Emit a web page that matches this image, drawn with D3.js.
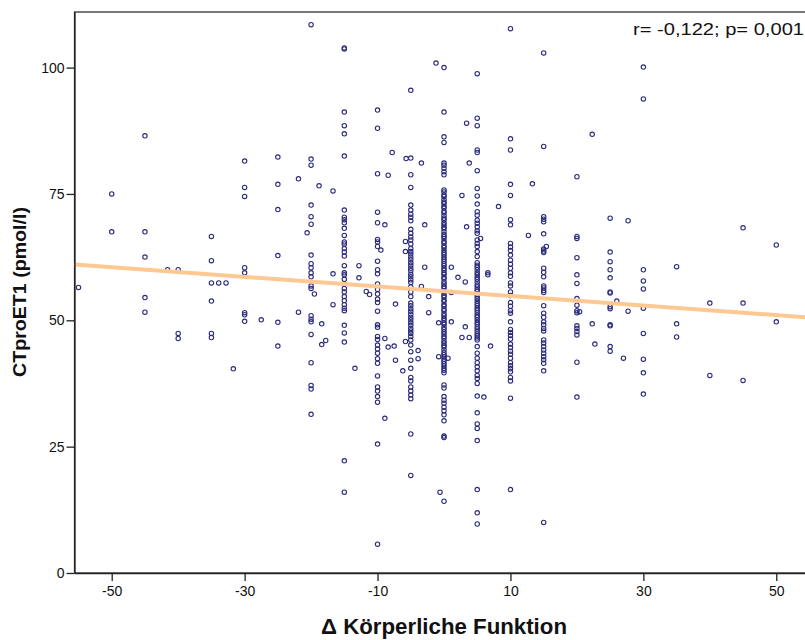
<!DOCTYPE html>
<html>
<head>
<meta charset="utf-8">
<script src="https://cdn.jsdelivr.net/npm/d3@7"></script>
<style>
  body { margin: 0; background: #fff; }
  svg text { font-family: Arial, "Liberation Sans", sans-serif; }
</style>
</head>
<body>
<div class="canvas-container"></div>
<script>
// x columns (Δ Körperliche Funktion) and CTproET1 values in each column
const colX = [-50, -45, -40, -35, -30, -25, -20, -15, -10, -5, 0, 5, 10, 15, 20, 25, 30, 35, 40, 45, 50]
const colY = [
  [75.0, 67.5],
  [86.5, 67.5, 62.5, 54.5, 51.6],
  [60.0, 47.4, 46.4],
  [66.6, 61.8, 57.4, 53.8, 47.4, 46.6],
  [81.5, 76.3, 74.5, 60.4, 59.4, 51.5, 51.1, 49.8],
  [82.3, 76.9, 71.9, 62.8, 49.6, 44.9],
  [108.5, 81.9, 80.7, 72.8, 70.5, 69.0, 62.9, 61.2, 60.4, 59.4, 58.6, 56.8, 56.3, 50.9, 50.2, 49.7, 47.2, 41.6, 37.1, 36.4, 31.4],
  [103.9, 103.7, 91.2, 88.5, 86.9, 82.5, 71.8, 70.4, 69.9, 69.3, 68.2, 66.8, 65.5, 65.1, 64.2, 63.5, 62.7, 60.8, 59.4, 59.0, 58.1, 57.2, 56.3, 55.6, 54.7, 53.9, 53.1, 52.4, 51.9, 49.0, 47.5, 45.7, 22.2, 16.0],
  [91.6, 88.0, 79.0, 71.4, 69.3, 66.0, 65.5, 64.6, 61.7, 60.0, 59.2, 57.2, 56.1, 55.2, 54.2, 53.5, 51.8, 49.1, 48.6, 46.8, 46.2, 45.1, 44.3, 43.5, 42.4, 41.5, 39.0, 36.8, 36.0, 34.9, 33.8, 25.5, 5.7],
  [95.5, 82.1, 78.8, 76.3, 72.8, 71.8, 71.0, 70.4, 69.7, 68.0, 67.2, 66.5, 65.9, 65.1, 64.2, 63.6, 63.1, 62.5, 62.0, 61.4, 60.9, 60.3, 59.8, 59.1, 58.6, 58.0, 57.5, 56.6, 55.6, 54.7, 53.4, 52.9, 52.3, 51.8, 51.2, 50.6, 50.1, 49.5, 49.0, 48.4, 47.9, 47.4, 46.8, 46.1, 45.1, 43.8, 42.1, 40.5, 38.7, 38.0, 36.8, 36.0, 35.2, 34.5, 27.5, 19.3],
  [100.0, 91.2, 86.3, 85.2, 81.1, 80.7, 80.1, 79.4, 78.8, 75.8, 75.4, 74.8, 74.5, 73.9, 73.4, 73.1, 72.5, 72.2, 71.6, 71.3, 70.7, 70.2, 69.9, 69.3, 68.9, 68.4, 68.1, 67.5, 67.0, 66.6, 66.2, 65.6, 65.3, 64.7, 64.4, 63.9, 63.4, 63.0, 62.5, 62.1, 61.7, 61.2, 60.8, 60.3, 59.9, 59.4, 59.1, 58.5, 58.2, 57.6, 57.2, 56.7, 56.4, 55.8, 55.4, 54.9, 54.6, 54.0, 53.7, 53.1, 52.8, 52.2, 51.9, 51.3, 50.9, 50.4, 50.0, 49.5, 49.2, 48.6, 48.2, 47.7, 47.3, 46.8, 46.5, 45.9, 45.5, 45.0, 44.7, 44.1, 43.6, 43.2, 42.8, 42.3, 41.9, 41.4, 41.0, 40.5, 40.1, 39.6, 37.2, 36.6, 34.9, 34.2, 33.6, 32.8, 32.1, 31.3, 30.1, 27.1, 26.8, 14.2],
  [98.8, 90.0, 88.5, 83.7, 83.2, 79.6, 76.1, 74.6, 73.0, 71.5, 70.8, 69.8, 69.2, 68.5, 67.7, 67.2, 65.9, 65.2, 64.6, 63.6, 62.6, 61.4, 60.9, 60.5, 60.0, 59.4, 59.0, 58.5, 58.1, 57.6, 57.0, 56.6, 56.1, 55.7, 55.2, 54.8, 54.3, 53.8, 53.3, 52.9, 52.4, 52.0, 51.5, 51.0, 50.6, 50.1, 49.6, 49.2, 48.7, 48.3, 47.8, 47.3, 46.9, 46.5, 46.1, 44.8, 43.5, 42.5, 41.6, 40.8, 40.0, 39.1, 38.5, 37.5, 35.0, 31.7, 29.5, 28.6, 26.2, 16.5, 11.9, 9.7],
  [107.7, 85.9, 83.7, 76.9, 74.7, 69.9, 68.9, 65.2, 64.5, 63.8, 62.9, 61.9, 61.1, 60.3, 59.4, 58.7, 57.4, 56.8, 55.6, 54.9, 53.5, 52.8, 51.9, 51.4, 49.7, 48.2, 47.6, 47.0, 46.3, 45.3, 44.6, 43.9, 43.3, 42.5, 41.6, 41.0, 40.4, 39.8, 38.7, 38.0, 34.6, 16.5],
  [102.9, 84.4, 70.5, 70.0, 69.5, 67.1, 64.1, 63.7, 63.4, 60.3, 59.5, 58.6, 56.8, 56.4, 55.9, 55.5, 52.9, 51.4, 50.6, 49.7, 49.1, 48.4, 47.9, 46.1, 45.5, 44.8, 44.1, 43.5, 42.8, 42.2, 41.5, 40.0, 10.0],
  [78.4, 66.6, 66.2, 62.4, 59.0, 57.3, 54.3, 53.0, 51.9, 51.5, 48.9, 48.4, 47.8, 47.1, 41.7, 34.8],
  [70.2, 63.5, 61.6, 60.0, 58.4, 55.6, 55.4, 52.7, 52.3, 49.1, 48.9, 44.8, 43.9],
  [100.1, 93.8, 60.0, 57.8, 56.2, 52.4, 47.4, 42.3, 39.6, 35.4],
  [60.6, 49.3, 46.7],
  [53.4, 39.1],
  [68.3, 53.4, 38.1],
  [64.9, 49.7],
]

// points that sit between the columns
const looseX = [-55.0, -41.6, -33.9, -32.8, -31.7, -27.5, -21.9, -21.9, -20.6, -19.5, -18.8, -18.4, -18.4, -17.8,
  -16.7, -16.7, -16.7, -13.4, -12.8, -12.8, -11.7, -11.2, -9.5, -8.9, -8.4, -7.8, -8.9, -8.4, -7.5, -7.3, -7.3,
  -6.2, -8.9, -5.8, -5.8, -5.8, -5.7, -3.4, -2.9, -2.9, -3.4, -2.3, -2.3, -3.9, -3.9, -1.2, -0.8, -0.8, -0.6,
  0.6, 1.1, 1.1, 1.1, 2.1, 2.7, 2.7, 3.2, 3.2, 3.8, 3.8, 3.4, 3.4, 5.5, 6.0, 6.6, 6.6, 7.0, 8.2, 12.7, 13.3,
  15.4, 20.4, 22.3, 22.3, 22.7, 26.0, 27.7, 27.7, 27.0]
const looseY = [56.5, 60.0, 57.4, 57.4, 40.4, 50.1, 78.0, 51.6, 67.3, 55.2, 76.6, 49.3, 45.2, 46.0,
  75.6, 59.2, 53.1, 40.5, 60.8, 58.4, 55.7, 55.1, 63.9, 68.9, 78.7, 83.2, 46.4, 44.7, 44.9, 53.2, 42.1,
  40.0, 30.6, 65.6, 63.6, 45.8, 82.0, 81.1, 68.9, 60.5, 56.7, 54.7, 51.5, 44.0, 42.4, 100.9, 49.5, 42.8, 16.0,
  42.5, 60.5, 55.5, 49.7, 58.5, 74.7, 46.6, 57.6, 48.7, 81.1, 46.6, 68.5, 89.0, 66.2, 34.8, 59.0, 59.4, 44.9, 72.5, 66.8, 77.0,
  64.6, 51.7, 86.8, 49.3, 45.3, 53.8, 69.7, 51.8, 42.5]

// linear fit line
const fitX = [-55.6, 55.6]
const fitY = [61.03, 50.49]

const xTicks = [-50, -30, -10, 10, 30, 50]
const yTicks = [0, 25, 50, 75, 100]
const statText = "r= -0,122; p= 0,001"

const w = 805
const h = 640

const svg = d3.select(".canvas-container").append("svg")
  .attr("width", w).attr("height", h)

const x = d3.scaleLinear().domain([-55.6, 55.6]).range([74.5, 813.5])
const y = d3.scaleLinear().domain([0, 111]).range([573, 12])

const points = []
colX.forEach((cx, i) => colY[i].forEach(v => points.push([cx, v])))
looseX.forEach((lx, i) => points.push([lx, looseY[i]]))

// frame
svg.append("rect")
  .attr("x", x(-55.6)).attr("y", y(111))
  .attr("width", x(55.6) - x(-55.6)).attr("height", y(0) - y(111))
  .attr("fill", "none").attr("stroke", "#222").attr("stroke-width", 1.2)

svg.append("g").selectAll("circle")
  .data(points)
  .enter()
  .append("circle")
  .attr("cx", d => x(d[0]))
  .attr("cy", d => y(d[1]))
  .attr("r", 2.2)
  .attr("fill", "none")
  .attr("stroke", "#2b2b7c")
  .attr("stroke-width", 1.1)

svg.append("line")
  .attr("x1", x(fitX[0])).attr("y1", y(fitY[0]))
  .attr("x2", x(fitX[1])).attr("y2", y(fitY[1]))
  .attr("stroke", "#fdc892").attr("stroke-width", 4)

// plain hyphen for negatives, like the original
const fmt = d => String(d)

const xAxis = svg.append("g")
  .attr("transform", `translate(0,${y(0)})`)
  .call(d3.axisBottom(x).tickValues(xTicks).tickFormat(fmt).tickSize(8).tickSizeOuter(0).tickPadding(5))
const yAxis = svg.append("g")
  .attr("transform", `translate(${x(-55.6)},0)`)
  .call(d3.axisLeft(y).tickValues(yTicks).tickFormat(fmt).tickSize(8).tickSizeOuter(0).tickPadding(2))

;[xAxis, yAxis].forEach(g => {
  g.select(".domain").attr("stroke", "#222").attr("stroke-width", 1.3)
  g.selectAll(".tick line").attr("stroke", "#222").attr("stroke-width", 1.3)
  g.selectAll(".tick text").attr("fill", "#111").style("font-size", "14px")
    .style("font-family", "Arial, 'Liberation Sans', sans-serif")
})

svg.append("text")
  .attr("x", 633).attr("y", 35)
  .style("font-size", "16px")
  .attr("textLength", 171).attr("lengthAdjust", "spacingAndGlyphs")
  .attr("fill", "#111")
  .text(statText)

svg.append("text")
  .attr("transform", "translate(26,292) rotate(-90)")
  .attr("text-anchor", "middle")
  .style("font-size", "18px").style("font-weight", "bold")
  .attr("textLength", 170).attr("lengthAdjust", "spacingAndGlyphs")
  .attr("fill", "#111")
  .text("CTproET1 (pmol/l)")

svg.append("text")
  .attr("x", 444).attr("y", 634)
  .attr("text-anchor", "middle")
  .style("font-size", "22px").style("font-weight", "bold")
  .attr("textLength", 246).attr("lengthAdjust", "spacingAndGlyphs")
  .attr("fill", "#111")
  .text("Δ Körperliche Funktion")
</script>
</body>
</html>
